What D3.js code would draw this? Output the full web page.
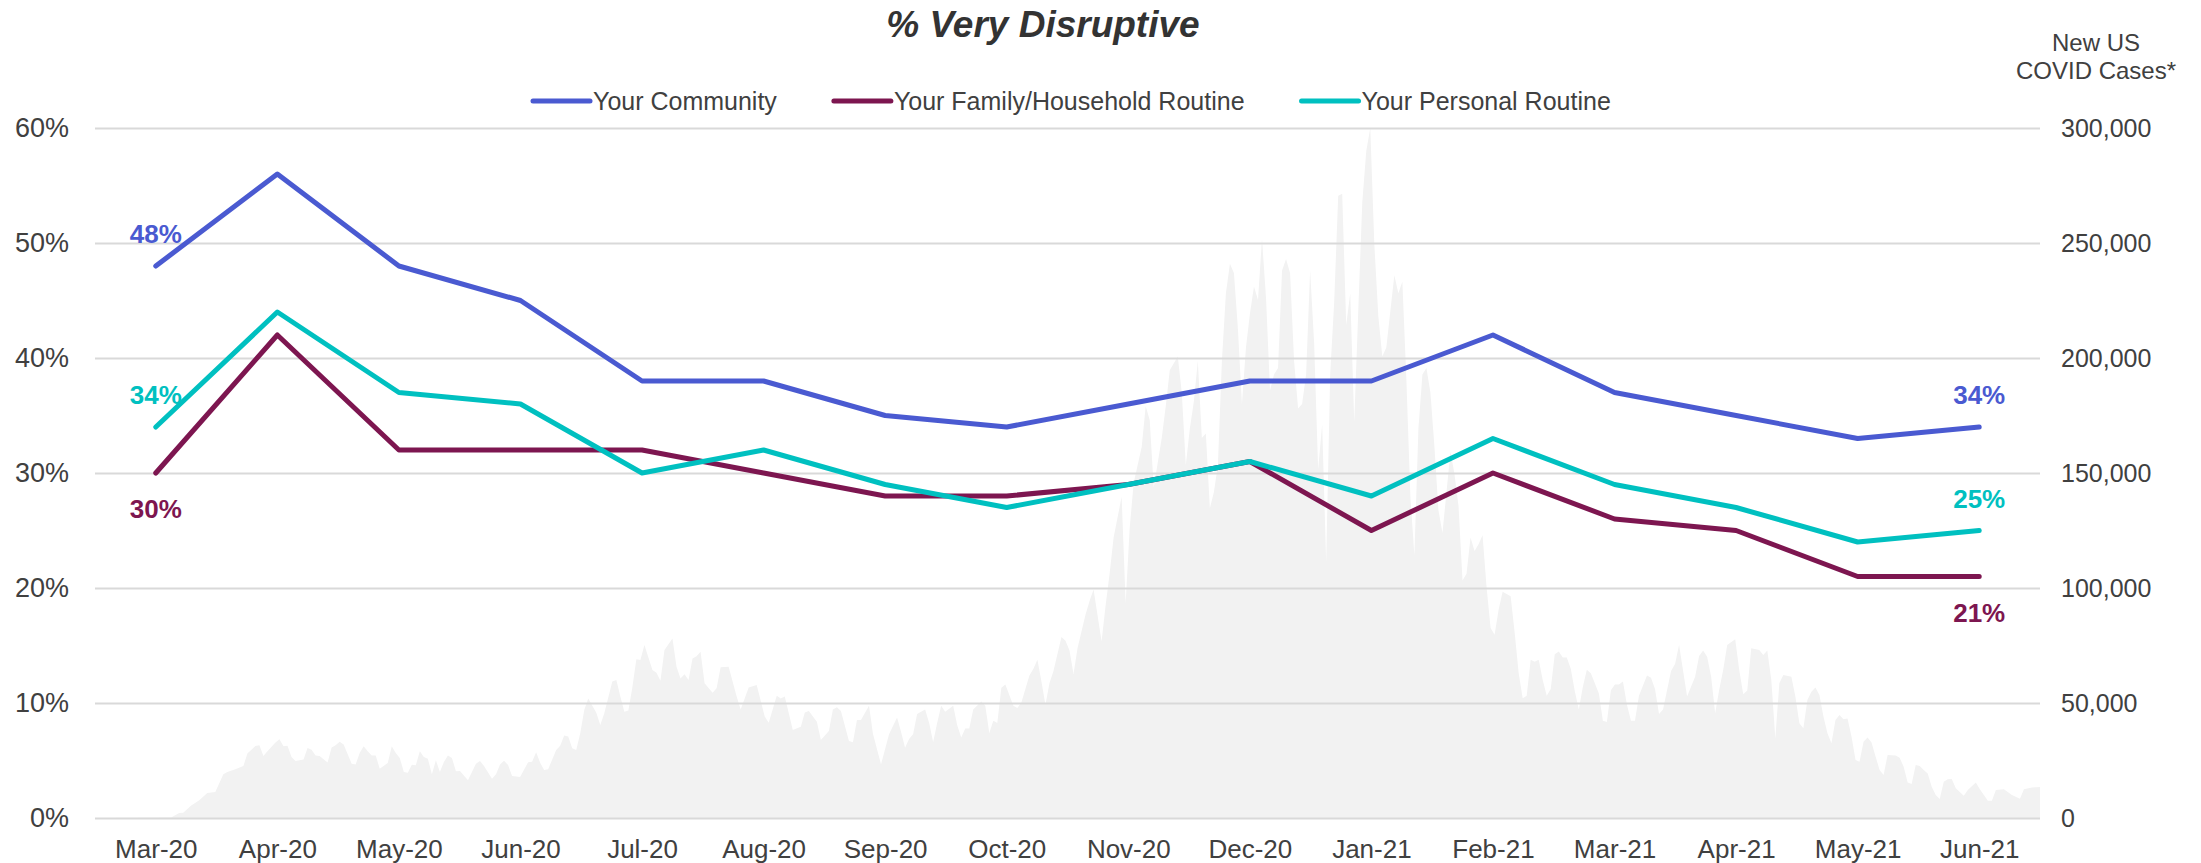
<!DOCTYPE html>
<html>
<head>
<meta charset="utf-8">
<script src="https://cdn.jsdelivr.net/npm/d3@7"></script>
<style>
  body { margin: 0; background: #fff; }
  text { font-family: "Liberation Sans", Arial, sans-serif; }
</style>
</head>
<body>
<div id="chart"></div>
<script>
// survey months
var months = ["Mar-20", "Apr-20", "May-20", "Jun-20", "Jul-20", "Aug-20", "Sep-20", "Oct-20",
              "Nov-20", "Dec-20", "Jan-21", "Feb-21", "Mar-21", "Apr-21", "May-21", "Jun-21"];

// % very disruptive
var community = [48, 56, 48, 45, 38, 38, 35, 34, 36, 38, 38, 42, 37, 35, 33, 34];
var family    = [30, 42, 32, 32, 32, 30, 28, 28, 29, 31, 25, 30, 26, 25, 21, 21];
var personal  = [34, 44, 37, 36, 30, 32, 29, 27, 29, 31, 28, 33, 29, 27, 24, 25];

var pctTicks = [0, 10, 20, 30, 40, 50, 60];
var caseTicks = [0, 50000, 100000, 150000, 200000, 250000, 300000];

// new US covid cases, [days after caseStart, cases]
var caseStart = "2020-03-01";
var newCases = [
  [-5, 0], [14, 200], [16, 2200], [17, 2300], [19, 5400], [21, 7700], [23, 10900], [25, 11300],
  [27, 19000], [28, 20000], [30, 21200], [32, 22600], [33, 28000], [35, 31300], [36, 31600],
  [37, 27000], [38, 29000], [40, 32800], [41, 34200], [42, 31200], [43, 31400], [44, 26500],
  [45, 24800], [47, 25400], [48, 30400], [49, 29700], [50, 27200], [51, 27000], [53, 24100],
  [54, 30600], [55, 31600], [56, 33200], [57, 32000], [59, 23600], [60, 23300], [61, 28300],
  [62, 31200], [63, 29000], [64, 27200], [65, 27200], [66, 21400], [68, 23900], [69, 31200],
  [70, 28300], [71, 26100], [72, 20000], [73, 19700], [74, 23200], [75, 22900], [76, 29000],
  [77, 26500], [78, 25800], [79, 19000], [80, 25100], [81, 20000], [82, 24300], [83, 27200],
  [84, 26100], [85, 20300], [86, 20400], [88, 16400], [90, 23600], [91, 24800], [92, 22600],
  [94, 17100], [95, 19000], [96, 23300], [97, 24900], [98, 23000], [99, 18300], [101, 17800],
  [103, 24200], [104, 24500], [105, 28600], [106, 24000], [107, 20900], [108, 21200],
  [110, 29600], [111, 31400], [112, 35900], [113, 35400], [114, 30300], [115, 29600],
  [116, 36800], [117, 47000], [118, 52000], [120, 45800], [121, 40400], [122, 45500],
  [124, 59300], [125, 60000], [126, 52800], [127, 46200], [128, 46700], [129, 56800],
  [130, 69000], [131, 68700], [132, 75200], [134, 64300], [135, 63200], [136, 59700],
  [137, 73000], [139, 78000], [140, 65800], [141, 60700], [142, 62500], [143, 60000],
  [144, 69400], [145, 70300], [146, 72300], [147, 58600], [149, 54500], [150, 56400],
  [151, 65500], [153, 65800], [155, 52800], [156, 47200], [158, 56700], [160, 57800],
  [162, 44100], [163, 41400], [165, 53200], [166, 52000], [167, 52800], [169, 38300],
  [171, 39700], [172, 45900], [173, 46500], [175, 41900], [176, 33900], [178, 37800],
  [179, 47200], [180, 48100], [181, 46500], [183, 33500], [184, 32900], [185, 42600],
  [186, 42600], [188, 48800], [189, 36500], [191, 23300], [193, 36400], [195, 43700],
  [196, 37400], [197, 30500], [198, 34400], [199, 36400], [200, 45200], [202, 47200],
  [203, 41300], [204, 33000], [205, 41300], [206, 48800], [207, 46200], [209, 48800],
  [210, 40300], [211, 35000], [212, 38900], [213, 38900], [214, 47200], [216, 50700],
  [217, 48800], [218, 37000], [219, 42300], [220, 41300], [221, 56600], [222, 58000],
  [224, 48800], [225, 47800], [226, 50200], [228, 62000], [229, 64900], [230, 68800],
  [231, 59400], [232, 49200], [233, 58600], [234, 63900], [236, 78700], [237, 77100],
  [238, 72800], [239, 62600], [240, 73800], [242, 88500], [243, 94400], [244, 99300],
  [246, 76700], [247, 92400], [248, 106200], [249, 122000], [251, 139700], [252, 93400],
  [253, 125900], [254, 145600], [256, 161300], [257, 179000], [258, 173000], [259, 143600],
  [261, 165200], [262, 179000], [263, 194700], [265, 200600], [266, 184900], [267, 153400],
  [268, 169200], [269, 181000], [270, 198700], [271, 165200], [272, 167200], [273, 134700],
  [274, 141600], [275, 153400], [276, 198700], [277, 228200], [278, 241000], [279, 237000],
  [280, 212400], [281, 180000], [282, 204600], [283, 219300], [284, 231100], [285, 225200],
  [286, 251800], [287, 226200], [288, 185900], [289, 192800], [290, 195700], [291, 238000],
  [292, 243000], [293, 237000], [294, 198700], [295, 178000], [296, 180000], [297, 192800],
  [298, 238000], [299, 206500], [300, 151500], [301, 171100], [302, 111100], [303, 192800],
  [304, 224200], [305, 270500], [306, 271400], [307, 214400], [308, 228200], [309, 172100],
  [310, 220300], [311, 267500], [312, 290000], [313, 300000], [314, 249800], [315, 218300],
  [316, 200600], [317, 204600], [318, 220300], [319, 236000], [320, 228200], [321, 233100],
  [322, 190800], [323, 139700], [324, 114100], [325, 169200], [326, 192800], [327, 195700],
  [328, 184900], [329, 161300], [330, 133800], [331, 123900], [332, 141600], [333, 159300],
  [334, 149500], [335, 135700], [336, 103300], [337, 106200], [338, 122000], [339, 116100],
  [340, 119000], [341, 122900], [342, 100300], [343, 82600], [344, 79700], [345, 90500],
  [346, 98400], [348, 96400], [349, 80600], [350, 63000], [351, 52100], [352, 53100],
  [353, 68800], [354, 67900], [355, 68800], [356, 60000], [357, 53100], [358, 56100],
  [359, 71200], [360, 72400], [361, 69800], [362, 69800], [363, 64900], [364, 55100],
  [365, 47200], [366, 57000], [367, 64500], [368, 62900], [370, 54100], [371, 42300],
  [372, 41700], [373, 55500], [374, 58000], [375, 58000], [376, 59400], [377, 49200],
  [378, 42300], [379, 42300], [380, 53100], [382, 62000], [383, 61000], [384, 56100],
  [385, 45200], [386, 47200], [388, 63900], [389, 67000], [390, 75200], [392, 52800],
  [394, 61400], [395, 70400], [396, 72800], [397, 70100], [398, 61400], [399, 45500],
  [400, 55700], [401, 64300], [402, 75200], [404, 77700], [405, 64300], [406, 53800],
  [407, 55400], [408, 73800], [410, 73000], [411, 70900], [412, 72800], [413, 60000],
  [414, 34600], [415, 58600], [416, 62200], [418, 61400], [419, 52800], [420, 41200],
  [421, 39000], [422, 51300], [423, 54900], [424, 56700], [425, 53500], [426, 44100],
  [427, 36800], [428, 32500], [429, 42600], [430, 44800], [431, 42900], [432, 43300],
  [433, 35400], [434, 25200], [435, 24500], [436, 33200], [437, 35000], [438, 32800],
  [439, 26700], [440, 20900], [441, 18700], [442, 27400], [444, 27200], [445, 26200],
  [446, 22300], [447, 15400], [448, 14800], [449, 23000], [450, 22600], [451, 20900],
  [452, 19400], [453, 13600], [454, 10000], [455, 8300], [456, 15800], [457, 16800],
  [458, 17000], [459, 12900], [461, 9700], [462, 12200], [464, 15400], [465, 12500],
  [466, 10000], [467, 7500], [468, 7500], [469, 12200], [471, 12500], [473, 10000],
  [475, 8400], [476, 12500], [478, 13300], [480, 13500]
];

var width = 2201, height = 863;
var plotLeft = 95, plotRight = 2040, plotTop = 128, plotBottom = 818;
var textColor = "#404040";

var svg = d3.select("#chart").append("svg")
    .attr("width", width)
    .attr("height", height);

var x = d3.scalePoint().domain(months).range([plotLeft, plotRight]).padding(0.5);
var y = d3.scaleLinear().domain([0, 60]).range([plotBottom, plotTop]);
var yCases = d3.scaleLinear().domain([0, 300000]).range([plotBottom, plotTop]);

var base = d3.timeParse("%Y-%m-%d")(caseStart);
var caseData = newCases.map(function(d) {
  return { date: d3.timeDay.offset(base, d[0]), value: d[1] };
});
var xDate = d3.scaleTime()
    .domain(d3.extent(caseData, function(d) { return d.date; }))
    .range([plotLeft, plotRight]);

// covid area in the back
svg.append("path")
    .datum(caseData)
    .attr("fill", "#f2f2f2")
    .attr("d", d3.area()
      .x(function(d) { return xDate(d.date); })
      .y0(plotBottom)
      .y1(function(d) { return yCases(d.value); }));

// left axis + gridlines
var gLeft = svg.append("g")
    .attr("transform", "translate(" + plotLeft + ",0)")
    .call(d3.axisLeft(y)
      .tickValues(pctTicks)
      .tickSize(-(plotRight - plotLeft))
      .tickPadding(26)
      .tickFormat(function(d) { return d + "%"; }));
gLeft.select(".domain").remove();
gLeft.selectAll(".tick line").attr("stroke", "#d9d9d9").attr("stroke-width", 2);
gLeft.selectAll(".tick text")
    .attr("fill", textColor)
    .style("font-size", "27px")
    .style("font-family", "'Liberation Sans', Arial, sans-serif");

// right axis
var gRight = svg.append("g")
    .attr("transform", "translate(" + plotRight + ",0)")
    .call(d3.axisRight(yCases)
      .tickValues(caseTicks)
      .tickSize(0)
      .tickPadding(21)
      .tickFormat(d3.format(",")));
gRight.select(".domain").remove();
gRight.selectAll(".tick text")
    .attr("fill", textColor)
    .style("font-size", "25px")
    .style("font-family", "'Liberation Sans', Arial, sans-serif");

// bottom axis
var gBottom = svg.append("g")
    .attr("transform", "translate(0," + plotBottom + ")")
    .call(d3.axisBottom(x).tickSize(0).tickPadding(22));
gBottom.select(".domain").remove();
gBottom.selectAll(".tick text")
    .attr("fill", textColor)
    .style("font-size", "26px")
    .style("font-family", "'Liberation Sans', Arial, sans-serif");

// series
var series = [
  { name: "Your Community", values: community, color: "#4a5ad1", label: "above" },
  { name: "Your Family/Household Routine", values: family, color: "#7d1650", label: "below" },
  { name: "Your Personal Routine", values: personal, color: "#00c0c0", label: "above" }
];

var line = d3.line()
    .x(function(d, i) { return x(months[i]); })
    .y(function(d) { return y(d); });

series.forEach(function(s) {
  svg.append("path")
      .datum(s.values)
      .attr("fill", "none")
      .attr("stroke", s.color)
      .attr("stroke-width", 5)
      .attr("stroke-linejoin", "round")
      .attr("stroke-linecap", "round")
      .attr("d", line);
});

// first / last data labels
series.forEach(function(s) {
  var last = s.values.length - 1;
  [0, last].forEach(function(i) {
    svg.append("text")
        .attr("x", x(months[i]))
        .attr("y", y(s.values[i]) + (s.label == "above" ? -23 : 45))
        .attr("text-anchor", "middle")
        .attr("fill", s.color)
        .style("font-size", "26px")
        .style("font-weight", "bold")
        .text(s.values[i] + "%");
  });
});

// title
svg.append("text")
    .attr("x", 1043)
    .attr("y", 37)
    .attr("text-anchor", "middle")
    .attr("fill", "#333")
    .style("font-size", "37px")
    .style("font-weight", "bold")
    .style("font-style", "italic")
    .text("% Very Disruptive");

// right axis title
var rt = svg.append("text")
    .attr("text-anchor", "middle")
    .attr("fill", textColor)
    .style("font-size", "24px");
rt.append("tspan").attr("x", 2096).attr("y", 51).text("New US");
rt.append("tspan").attr("x", 2096).attr("y", 79).text("COVID Cases*");

// legend
var legend = svg.append("g").attr("transform", "translate(533,101)");
var lx = 0;
series.forEach(function(s) {
  legend.append("line")
      .attr("x1", lx).attr("x2", lx + 57)
      .attr("stroke", s.color)
      .attr("stroke-width", 5)
      .attr("stroke-linecap", "round");
  var t = legend.append("text")
      .attr("x", lx + 60)
      .attr("dy", "0.35em")
      .attr("fill", textColor)
      .style("font-size", "25px")
      .text(s.name);
  lx += 60 + t.node().getComputedTextLength() + 57;
});
</script>
</body>
</html>
